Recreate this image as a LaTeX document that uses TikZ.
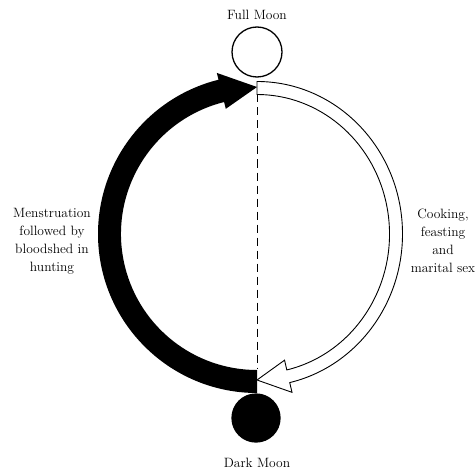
\documentclass[tikz,border=0pt]{standalone}
\usetikzlibrary{calc}
\begin{document}
\begin{tikzpicture}[x=1pt, y=1pt,
    moon/.style={circle, draw=black, line width=1.3pt, minimum size=#1, inner sep=0pt},
    lbl/.style={font=\fontsize{13.5}{18}\selectfont, align=center, inner sep=0pt},
    band/.style={draw=black, line width=0.9pt, line join=miter},
  ]
  \useasboundingbox (0,0) rectangle (476,472);
  \coordinate (hub) at (257,238);

  % moons and their labels
  \node[moon=50pt, fill=white] (full) at (257,420) {};
  \node[moon=48pt, fill=black] (dark) at (256,54) {};
  \node[lbl] (fullname) at (257,457) {Full Moon};
  \node[lbl] (darkname) at (257,9) {Dark Moon};

  % black arrow: dark moon round the left to full moon
  \fill[black] ($(hub)+(270:159)$) arc[start angle=270, end angle=104, radius=159]
    -- ($(hub)+(104:166)$) -- ($(hub)+(90:147)$) -- ($(hub)+(104:129)$)
    -- ($(hub)+(104:136)$) arc[start angle=104, end angle=270, radius=136] -- cycle;

  % white arrow: full moon round the right to dark moon
  \filldraw[band, fill=white] ($(hub)+(90:145.5 and 152.5)$)
    arc[start angle=90, end angle=-77, x radius=145.5, y radius=152.5]
    -- ($(hub)+(-77:155.5 and 162.5)$) -- ($(hub)+(270:139 and 146)$)
    -- ($(hub)+(-77:122.5 and 129.5)$) -- ($(hub)+(-77:132.5 and 139.5)$)
    arc[start angle=-77, end angle=90, x radius=132.5, y radius=139.5] -- cycle;

  \coordinate (waxtop) at ($(hub)+(90:139.5)$);
  \coordinate (wanebot) at ($(hub)+(270:134)$);
  \draw[line width=0.9pt, dash pattern=on 8pt off 5pt] (waxtop) -- (wanebot);

  \node[lbl] (blood) at (52,231) {Menstruation\\followed by\\bloodshed in\\hunting};
  \node[lbl] (feast) at (443,231) {Cooking,\\feasting\\and\\marital sex};
\end{tikzpicture}
\end{document}
